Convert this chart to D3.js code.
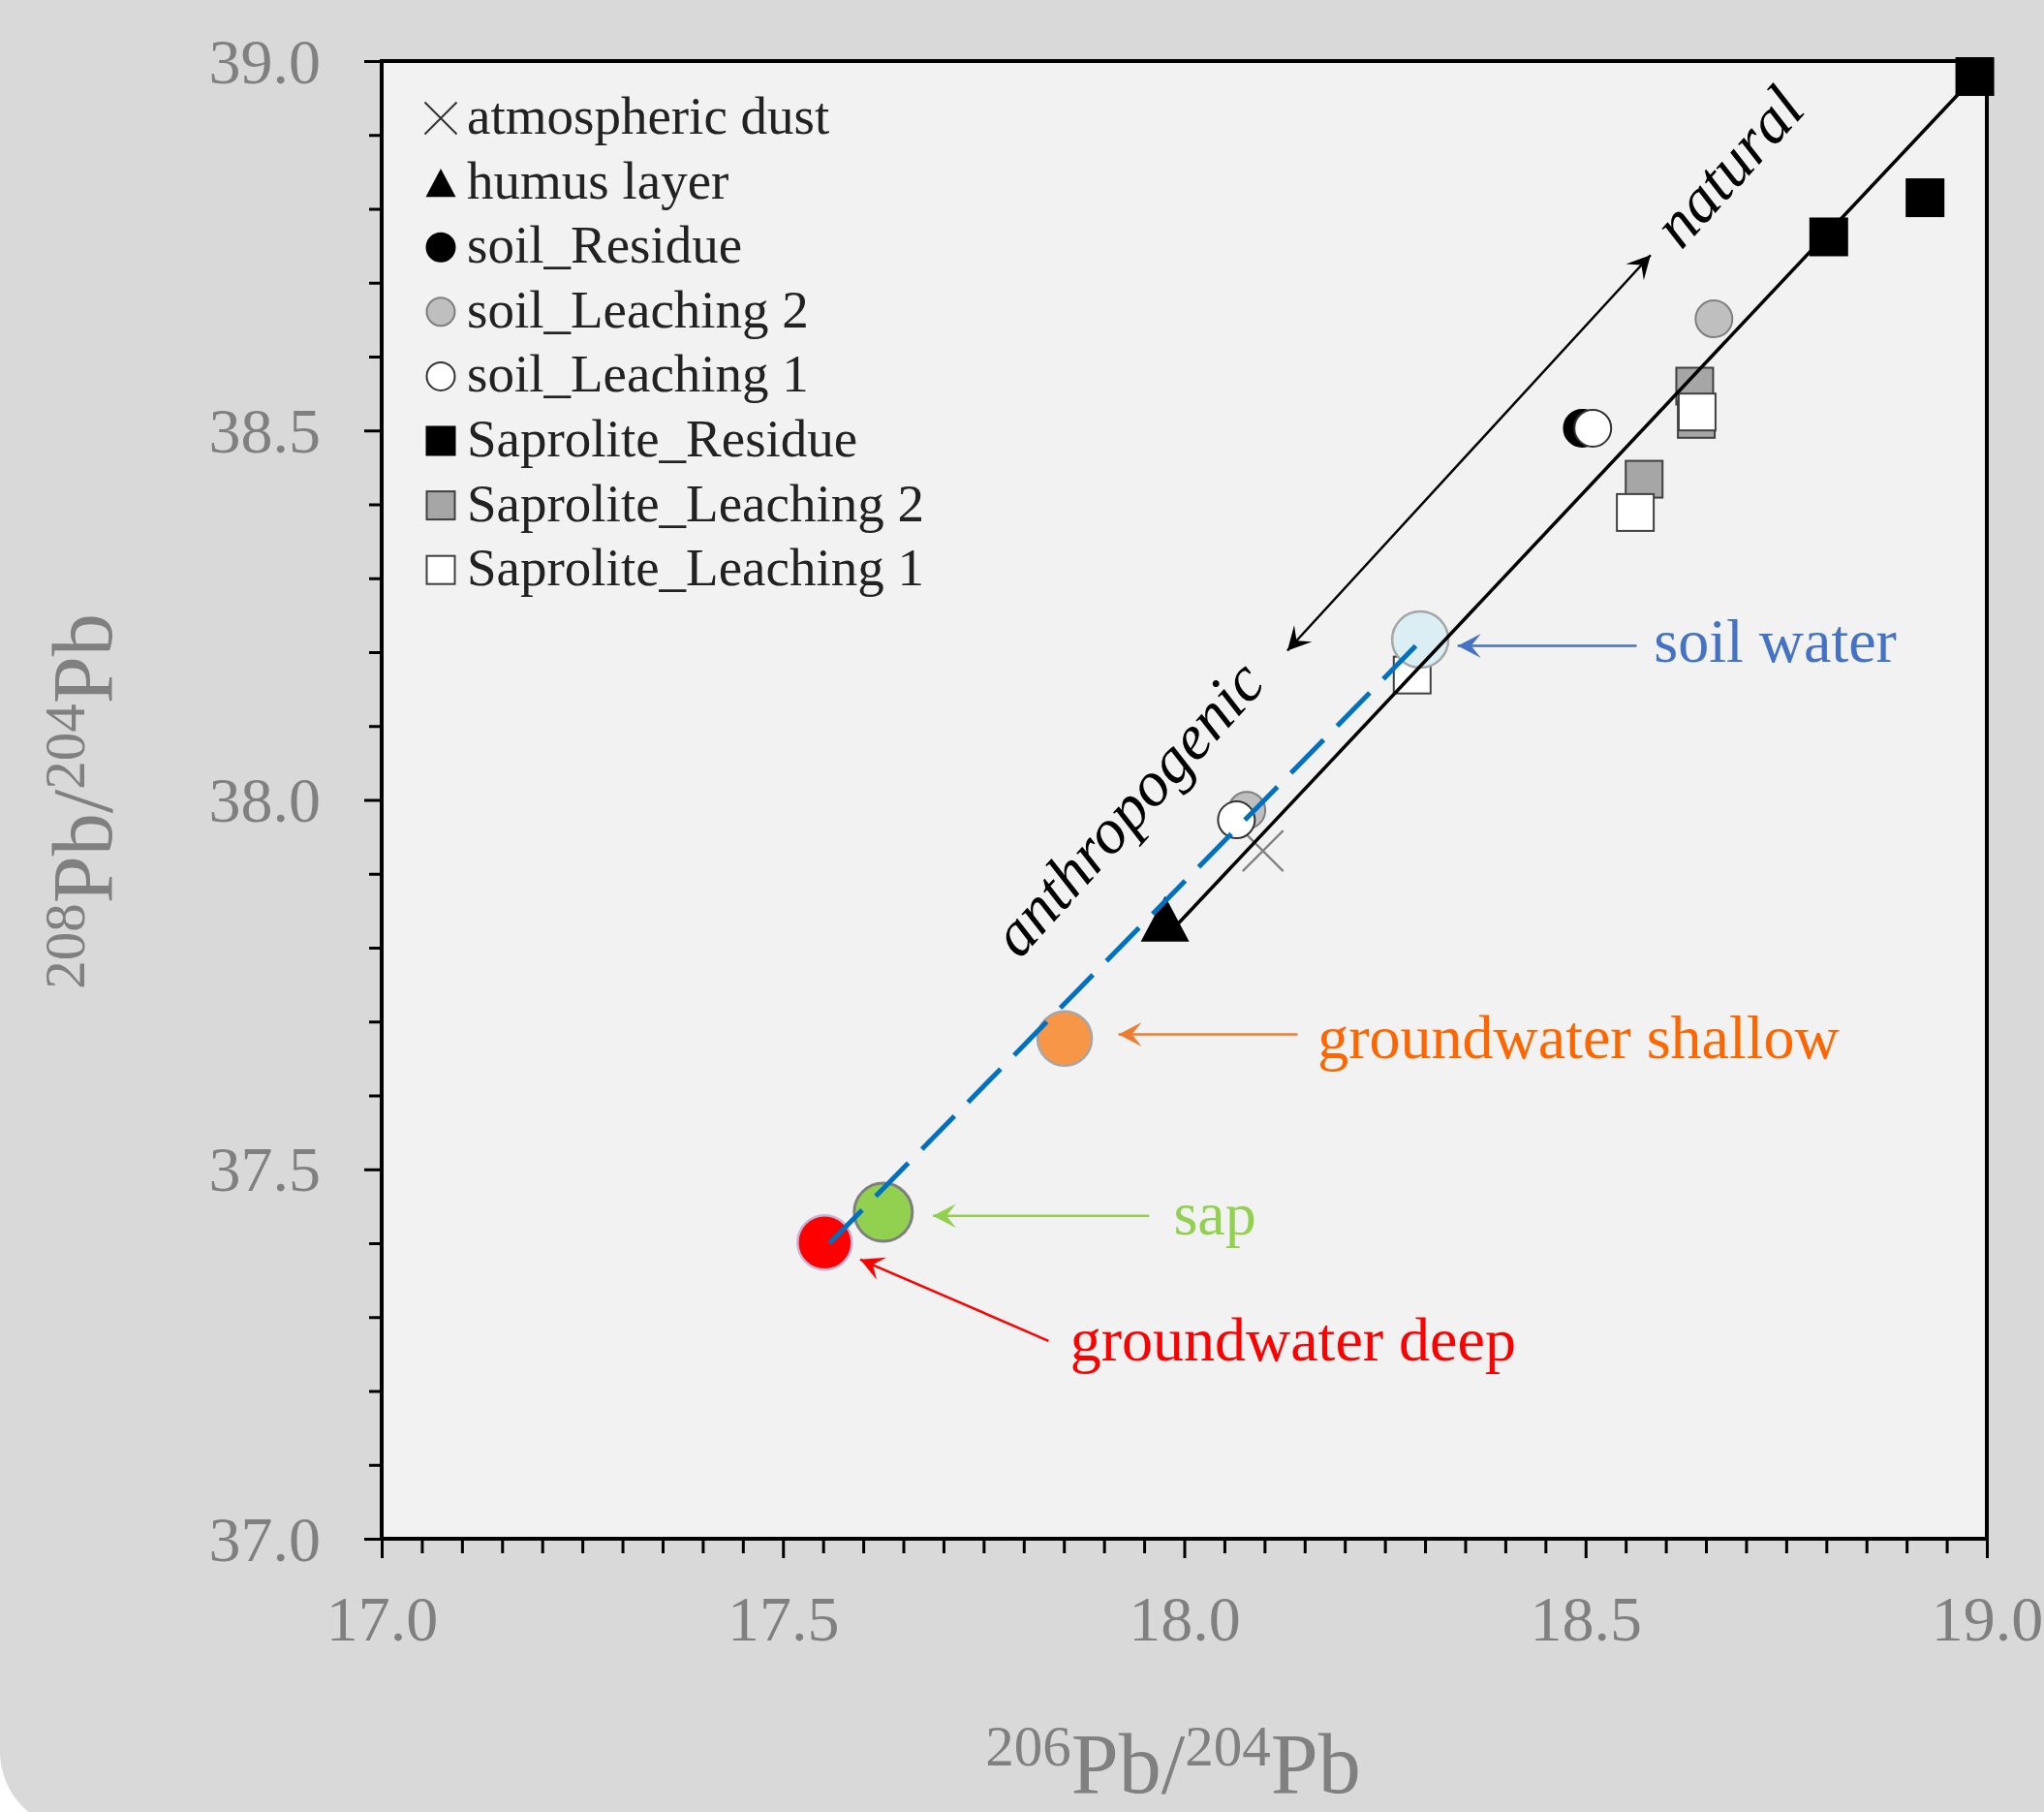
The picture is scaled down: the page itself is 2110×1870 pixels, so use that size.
<!DOCTYPE html>
<html>
<head>
<meta charset="utf-8">
<script src="https://cdn.jsdelivr.net/npm/d3@7/dist/d3.min.js"></script>
<style>
  html, body { margin: 0; padding: 0; background: #ffffff; }
  svg { display: block; }
</style>
</head>
<body>
<svg id="chart" width="2110" height="1870"></svg>
<script>
// ---------------- DATA ----------------
const xDomain = [17.0, 19.0];
const yDomain = [37.0, 39.0];
const xTicksMajor = [17.0, 17.5, 18.0, 18.5, 19.0];
const yTicksMajor = [37.0, 37.5, 38.0, 38.5, 39.0];

const legendLabels = ["atmospheric dust", "humus layer", "soil_Residue", "soil_Leaching 2",
  "soil_Leaching 1", "Saprolite_Residue", "Saprolite_Leaching 2", "Saprolite_Leaching 1"];

const atmosphericDustX = [18.098];
const atmosphericDustY = [37.931];
const humusX = [17.976];
const humusY = [37.839];
const soilResidueX = [18.496];
const soilResidueY = [38.503];
const soilLeaching2X = [18.078, 18.660];
const soilLeaching2Y = [37.986, 38.651];
const soilLeaching1X = [18.065, 18.509];
const soilLeaching1Y = [37.973, 38.503];
const saproliteResidueX = [18.985, 18.923, 18.803];
const saproliteResidueY = [38.979, 38.815, 38.762];
const saproliteLeaching2X = [18.636, 18.638, 18.573];
const saproliteLeaching2Y = [38.560, 38.515, 38.434];
const saproliteLeaching1X = [18.639, 18.562, 18.284];
const saproliteLeaching1Y = [38.525, 38.389, 38.169];

const waterLabels = ["soil water", "groundwater shallow", "sap", "groundwater deep"];
const waterX = [18.294, 17.851, 17.625, 17.552];
const waterY = [38.217, 37.677, 37.442, 37.401];

// regression line (solid) and mixing line (dashed)
const trendX = [17.9926, 18.9852];
const trendY = [37.8327, 38.9793];
const mixX = [17.5581, 18.2884];
const mixY = [37.4000, 38.2085];

// annotation arrows: tail -> tip (data units)
const annArrowTailX = [18.5637, 18.1413, 17.9564, 17.8309];
const annArrowTailY = [38.2085, 37.6826, 37.4370, 37.2678];
const annArrowTipX = [18.3406, 17.9180, 17.6868, 17.5963];
const annArrowTipY = [38.2085, 37.6826, 37.4370, 37.3780];
const annTextX = [18.5852, 18.1662, 17.9866, 17.8578];
const annTextY = [38.1867, 37.6511, 37.4120, 37.2416];

// double arrow and its labels
const dblArrowX = [18.1285, 18.5810];
const dblArrowY = [38.2020, 38.7374];
const trendLabels = ["anthropogenic", "natural"];
const trendLabelX = [17.9345, 18.6774];
const trendLabelY = [37.9839, 38.8572];

// ---------------- STYLE ----------------
const W = 2110, H = 1870;
const plot = { left: 394, right: 2051, top: 63, bottom: 1588 };
const waterFill = ["#DAEEF3", "#F79646", "#92D050", "#FF0000"];
const waterStroke = ["#a6a6a6", "#a6a6a6", "#7f7f7f", "#c4b4d8"];
const annColor = ["#4472C4", "#ED7D31", "#92D050", "#FF0000"];
const annTextColor = ["#4472C4", "#FF6600", "#92D050", "#FF0000"];
const serif = "'Liberation Serif', 'Times New Roman', serif";
const grayText = "#808080";

const svg = d3.select("#chart");

// rounded background
svg.append("rect").attr("x", 0).attr("y", -200).attr("width", 2400).attr("height", 2088)
  .attr("rx", 80).attr("ry", 80).attr("fill", "#d9d9d9");

const x = d3.scaleLinear().domain(xDomain).range([plot.left, plot.right]);
const y = d3.scaleLinear().domain(yDomain).range([plot.bottom, plot.top]);

// plot area
svg.append("rect").attr("x", plot.left).attr("y", plot.top)
  .attr("width", plot.right - plot.left).attr("height", plot.bottom - plot.top)
  .attr("fill", "#f2f2f2");

// arrow markers
const defs = svg.append("defs");
function makeMarker(id, color) {
  defs.append("marker").attr("id", id)
    .attr("viewBox", "-26 -14 28 28").attr("refX", 0).attr("refY", 0)
    .attr("markerWidth", 28).attr("markerHeight", 28)
    .attr("markerUnits", "userSpaceOnUse").attr("orient", "auto-start-reverse")
    .append("path").attr("d", "M0,0 L-24,-12.5 L-14,0 L-24,12.5 Z").attr("fill", color);
}
annColor.forEach((c, i) => makeMarker("arr" + i, c));
makeMarker("arrBlack", "#000");

// minor ticks
const xMinor = d3.range(0, 41).map(i => 17 + i * 0.05).filter(v => !xTicksMajor.some(m => Math.abs(m - v) < 1e-6));
const yMinor = d3.range(0, 21).map(i => 37 + i * 0.1).filter(v => !yTicksMajor.some(m => Math.abs(m - v) < 1e-6));

const gxMinor = svg.append("g").attr("transform", `translate(0,${plot.bottom})`)
  .call(d3.axisBottom(x).tickValues(xMinor).tickSize(15).tickFormat("").tickSizeOuter(0));
const gx = svg.append("g").attr("transform", `translate(0,${plot.bottom})`)
  .call(d3.axisBottom(x).tickValues(xTicksMajor).tickSize(20).tickSizeOuter(0).tickFormat(d3.format(".1f")));
const gyMinor = svg.append("g").attr("transform", `translate(${plot.left},0)`)
  .call(d3.axisLeft(y).tickValues(yMinor).tickSize(13).tickFormat("").tickSizeOuter(0));
const gy = svg.append("g").attr("transform", `translate(${plot.left},0)`)
  .call(d3.axisLeft(y).tickValues(yTicksMajor).tickSize(18).tickSizeOuter(0).tickFormat(d3.format(".1f")));

[gxMinor, gx, gyMinor, gy].forEach(g => {
  g.select(".domain").remove();
  g.selectAll(".tick line").attr("stroke", "#000").attr("stroke-width", 3);
});
gx.selectAll(".tick text").attr("y", 105).attr("dy", null)
  .attr("font-family", serif).attr("font-size", 66).attr("fill", grayText);
gy.selectAll(".tick text").attr("x", -63).attr("y", 22).attr("dy", null)
  .attr("font-family", serif).attr("font-size", 66).attr("fill", grayText);

// frame
svg.append("rect").attr("x", plot.left).attr("y", plot.top)
  .attr("width", plot.right - plot.left).attr("height", plot.bottom - plot.top)
  .attr("fill", "none").attr("stroke", "#000").attr("stroke-width", 4);

// axis titles
const xt = svg.append("text").attr("x", 1211).attr("y", 1850).attr("text-anchor", "middle")
  .attr("font-family", serif).attr("fill", grayText);
xt.append("tspan").attr("font-size", 59).attr("dy", -28).text("206");
xt.append("tspan").attr("font-size", 88).attr("dy", 28).text("Pb/");
xt.append("tspan").attr("font-size", 59).attr("dy", -28).text("204");
xt.append("tspan").attr("font-size", 88).attr("dy", 28).text("Pb");

const yt = svg.append("text").attr("transform", "translate(115,827) rotate(-90)").attr("text-anchor", "middle")
  .attr("font-family", serif).attr("fill", grayText);
yt.append("tspan").attr("font-size", 59).attr("dy", -28).text("208");
yt.append("tspan").attr("font-size", 88).attr("dy", 28).text("Pb/");
yt.append("tspan").attr("font-size", 59).attr("dy", -28).text("204");
yt.append("tspan").attr("font-size", 88).attr("dy", 28).text("Pb");

// ---------------- MARKERS ----------------
const markerStyles = {
  dust: { stroke: "#7f7f7f" },
  humus: { fill: "#000" },
  soilRes: { fill: "#000", stroke: "#000" },
  soilL2: { fill: "#bfbfbf", stroke: "#7f7f7f" },
  soilL1: { fill: "#ffffff", stroke: "#333333" },
  sapRes: { fill: "#000", stroke: "#000" },
  sapL2: { fill: "#a6a6a6", stroke: "#404040" },
  sapL1: { fill: "#ffffff", stroke: "#404040" }
};

function drawMarker(g, kind, cx, cy, s, legend) {
  const st = markerStyles[kind];
  if (kind === "dust") {
    const h = s / 2;
    g.append("path").attr("d", `M${cx - h},${cy - h}L${cx + h},${cy + h}M${cx - h},${cy + h}L${cx + h},${cy - h}`)
      .attr("stroke", legend ? "#333" : st.stroke).attr("stroke-width", legend ? 2 : 2.2).attr("fill", "none");
  } else if (kind === "humus") {
    const w = s, h = s * 0.94;
    g.append("path").attr("d", `M${cx},${cy - h / 2}L${cx + w / 2},${cy + h / 2}L${cx - w / 2},${cy + h / 2}Z`)
      .attr("fill", st.fill);
  } else if (kind.startsWith("soil")) {
    g.append("circle").attr("cx", cx).attr("cy", cy).attr("r", s / 2 - 1)
      .attr("fill", st.fill).attr("stroke", st.stroke).attr("stroke-width", 2);
  } else {
    g.append("rect").attr("x", cx - s / 2 + 1).attr("y", cy - s / 2 + 1).attr("width", s - 2).attr("height", s - 2)
      .attr("fill", st.fill).attr("stroke", st.stroke).attr("stroke-width", 2);
  }
}

const gPts = svg.append("g");
const seriesList = [
  ["dust", atmosphericDustX, atmosphericDustY, 42],
  ["humus", humusX, humusY, 50],
  ["soilRes", soilResidueX, soilResidueY, 40],
  ["soilL2", soilLeaching2X, soilLeaching2Y, 40],
  ["soilL1", soilLeaching1X, soilLeaching1Y, 40],
  ["sapRes", saproliteResidueX, saproliteResidueY, 40],
  ["sapL2", saproliteLeaching2X, saproliteLeaching2Y, 40],
  ["sapL1", saproliteLeaching1X, saproliteLeaching1Y, 40]
];
seriesList.forEach(([kind, xs, ys, s]) => {
  xs.forEach((v, i) => drawMarker(gPts, kind, x(v), y(ys[i]), s, false));
});

// water samples
svg.append("g").selectAll("circle").data(waterLabels).join("circle")
  .attr("cx", (d, i) => x(waterX[i])).attr("cy", (d, i) => y(waterY[i]))
  .attr("r", (d, i) => [29, 28, 30, 28][i])
  .attr("fill", (d, i) => waterFill[i]).attr("stroke", (d, i) => waterStroke[i])
  .attr("stroke-width", (d, i) => i === 2 ? 3 : 2.5);

// trend line and mixing line
const line = d3.line().x(d => x(d[0])).y(d => y(d[1]));
svg.append("path").attr("d", line(trendX.map((v, i) => [v, trendY[i]])))
  .attr("stroke", "#000").attr("stroke-width", 3.5).attr("fill", "none");
svg.append("path").attr("d", line(mixX.map((v, i) => [v, mixY[i]])))
  .attr("stroke", "#0070C0").attr("stroke-width", 5).attr("fill", "none")
  .attr("stroke-dasharray", "48,20");

// double arrow
svg.append("path").attr("d", line(dblArrowX.map((v, i) => [v, dblArrowY[i]])))
  .attr("stroke", "#000").attr("stroke-width", 2.5).attr("fill", "none")
  .attr("marker-start", "url(#arrBlack)").attr("marker-end", "url(#arrBlack)");

trendLabels.forEach((t, i) => {
  svg.append("text")
    .attr("transform", `translate(${x(trendLabelX[i])},${y(trendLabelY[i])}) rotate(-48)`)
    .attr("text-anchor", "middle").attr("dy", i === 0 ? "0.25em" : "0.34em")
    .attr("font-family", serif).attr("font-style", "italic").attr("font-size", 66)
    .attr("fill", "#000").text(t);
});

// annotations
waterLabels.forEach((t, i) => {
  svg.append("line")
    .attr("x1", x(annArrowTailX[i])).attr("y1", y(annArrowTailY[i]))
    .attr("x2", x(annArrowTipX[i])).attr("y2", y(annArrowTipY[i]))
    .attr("stroke", annColor[i]).attr("stroke-width", 2.5)
    .attr("marker-end", `url(#arr${i})`);
  svg.append("text").attr("x", x(annTextX[i])).attr("y", y(annTextY[i]))
    .attr("font-family", serif).attr("font-size", 64).attr("fill", annTextColor[i]).text(t);
});

// ---------------- LEGEND ----------------
const legendKinds = ["dust", "humus", "soilRes", "soilL2", "soilL1", "sapRes", "sapL2", "sapL1"];
const gLeg = svg.append("g");
legendLabels.forEach((lab, i) => {
  const cy = 122 + i * 66.6;
  drawMarker(gLeg, legendKinds[i], 455, cy, legendKinds[i] === "dust" ? 33 : 31, true);
  gLeg.append("text").attr("x", 482).attr("y", cy + 16)
    .attr("font-family", serif).attr("font-size", 55).attr("fill", "#222").text(lab);
});
</script>
</body>
</html>
